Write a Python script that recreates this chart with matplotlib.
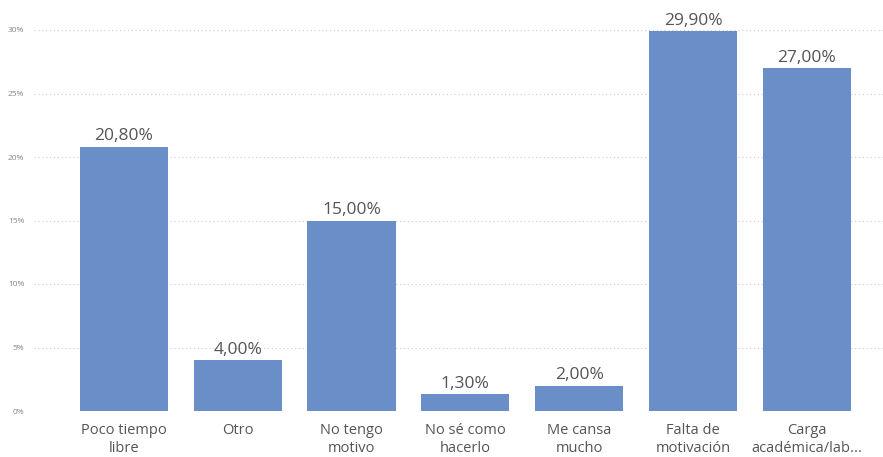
import matplotlib
matplotlib.use("Agg")
import matplotlib.pyplot as plt
from matplotlib.ticker import FuncFormatter

categories = ["Poco tiempo\nlibre", "Otro", "No tengo\nmotivo", "No sé como\nhacerlo",
              "Me cansa\nmucho", "Falta de\nmotivación", "Carga\nacadémica/lab..."]
values = [20.80, 4.00, 15.00, 1.30, 2.00, 29.90, 27.00]
yticks = [0, 5, 10, 15, 20, 25, 30]

plt.rcParams['font.family'] = ['Open Sans', 'DejaVu Sans']

fig = plt.figure(figsize=(8.83, 4.57), dpi=100)
ax = fig.add_axes([34/883, 46/457, 1 - 34/883, 381/457])

x = list(range(len(categories)))
ax.bar(x, values, width=0.774, color="#6A8FC8", zorder=3)

for xi, v in zip(x, values):
    ax.text(xi, v + 0.2, f"{v:.2f}%".replace(".", ","), ha="center", va="bottom",
            fontsize=12.5, color="#555555", clip_on=False, zorder=4)

ax.set_xlim(-0.79, 6.67)
ax.set_ylim(0, 30)
ax.set_yticks(yticks)
ax.yaxis.set_major_formatter(FuncFormatter(lambda v, p: f"{int(v)}%"))
ax.tick_params(axis="y", labelsize=6, labelcolor="#888888", length=0, pad=7)
ax.set_xticks(x)
ax.set_xticklabels(categories, fontsize=10.5, color="#555555", linespacing=1.25)
ax.tick_params(axis="x", length=0, pad=9)
ax.grid(axis="y", linestyle=(0, (1, 2.5)), color="#CCCCCC", linewidth=0.8, zorder=0)
for s in ax.spines.values():
    s.set_visible(False)

fig.savefig("out.png", dpi=100)
